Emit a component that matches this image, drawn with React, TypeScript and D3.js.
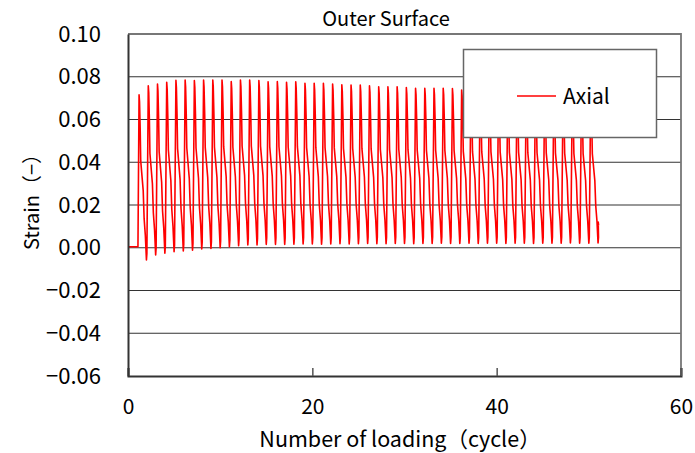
import { useEffect, useRef } from "react";
import * as d3 from "d3";

const W = 695;
const H = 453;

// axis ticks
const yTicks = [-0.06, -0.04, -0.02, 0, 0.02, 0.04, 0.06, 0.08, 0.1];
const xTicks = [0, 20, 40, 60];

// strain level before loading starts
const preLoadCycles = [0, 1.08];
const preLoadValues = [0.0005, 0.0005];

// peak strain of each loading cycle (1..50)
const peaks = [
  0.0715, 0.0758, 0.0766, 0.0774, 0.0783, 0.0785, 0.0782, 0.0785, 0.0785, 0.0785,
  0.0777, 0.0785, 0.0785, 0.0782, 0.0776, 0.0777, 0.0774, 0.0776, 0.0769, 0.0769,
  0.0769, 0.0766, 0.0762, 0.0761, 0.0761, 0.0758, 0.0753, 0.0753, 0.0753, 0.075,
  0.0746, 0.0746, 0.0746, 0.0746, 0.0745, 0.0738, 0.0736, 0.0735, 0.0734, 0.0732,
  0.0731, 0.073, 0.0728, 0.0727, 0.0726, 0.0724, 0.0722, 0.0721, 0.072, 0.0718,
];

// minimum strain after each peak
const troughs = [
  -0.0057, -0.0034, -0.0026, -0.0018, -0.0015, -0.0011, -0.0006, -0.0003, 0.0, 0.0005,
  0.001, 0.0013, 0.0013, 0.0016, 0.0016, 0.0016, 0.0017, 0.0018, 0.0018, 0.0017,
  0.0018, 0.0019, 0.0018, 0.0019, 0.002, 0.0019, 0.0019, 0.002, 0.002, 0.0019,
  0.002, 0.002, 0.0021, 0.002, 0.002, 0.0021, 0.002, 0.0021, 0.0021, 0.002,
  0.0021, 0.0021, 0.002, 0.0021, 0.0021, 0.0021, 0.0022, 0.0021, 0.0021, 0.0022,
];

// shape of one unloading branch: [phase within cycle, fraction of peak-trough range]
const branch: [number, number][] = [
  [0, 1],
  [0.05, 0.96],
  [0.12, 0.8],
  [0.18, 0.6],
  [0.45, 0.42],
  [0.55, 0.25],
  [0.68, 0.15],
  [0.8, 0],
  [0.85, 0.04],
];
const firstPeakCycle = 1.2;

// end of record after last cycle
const tailCycles = [51.02, 51.06];
const tailValues = [0.012, 0.0105];

const App = () => {
  const svgRef = useRef<SVGSVGElement>(null);

  useEffect(() => {
    const svg = d3.select(svgRef.current);
    svg.selectAll("*").remove();
    const font = "'Noto Sans CJK JP', 'Noto Sans', sans-serif";

    const left = 128, right = 681, top = 34, bottom = 376;
    const x = d3.scaleLinear().domain([0, 60]).range([left, right]);
    const y = d3.scaleLinear().domain([-0.06, 0.1]).range([bottom, top]);

    // build the series
    const pts: [number, number][] = preLoadCycles.map((c, i) => [c, preLoadValues[i]]);
    peaks.forEach((p, k) => {
      const t = troughs[k];
      branch.forEach(([ph, f]) => {
        pts.push([firstPeakCycle + k + ph, t + f * (p - t)]);
      });
    });
    tailCycles.forEach((c, i) => pts.push([c, tailValues[i]]));

    // gridlines
    svg.append("g")
      .selectAll("line")
      .data(yTicks.slice(1, -1))
      .join("line")
      .attr("x1", left)
      .attr("x2", right)
      .attr("y1", (d) => y(d))
      .attr("y2", (d) => y(d))
      .attr("stroke", "#333")
      .attr("stroke-width", 1.2);

    // frame: top and right
    svg.append("path")
      .attr("d", `M${left},${top}H${right}V${bottom}`)
      .attr("fill", "none")
      .attr("stroke", "#777")
      .attr("stroke-width", 1.8);

    // data line
    const line = d3.line<[number, number]>()
      .x((d) => x(d[0]))
      .y((d) => y(d[1]));
    svg.append("path")
      .datum(pts)
      .attr("d", line)
      .attr("fill", "none")
      .attr("stroke", "#ff0000")
      .attr("stroke-width", 1.6)
      .attr("stroke-linejoin", "round");

    // x axis
    const xAxis = d3.axisBottom(x).tickValues(xTicks).tickSize(-8).tickPadding(23).tickFormat((d) => `${d}`);
    const gx = svg.append("g").attr("transform", `translate(0,${bottom})`).call(xAxis);
    gx.select(".domain").attr("stroke", "#333").attr("stroke-width", 2);
    gx.selectAll(".tick line").attr("stroke", "#555").attr("stroke-width", 1.5);
    gx.selectAll("text").attr("font-family", font).attr("font-size", 21).attr("fill", "#000");

    // y axis
    const yAxis = d3.axisLeft(y).tickValues(yTicks).tickSize(0).tickPadding(27)
      .tickFormat((d) => (+d).toFixed(2).replace("-", "\u2212"));
    const gy = svg.append("g").attr("transform", `translate(${left},0)`).call(yAxis);
    gy.select(".domain").attr("stroke", "#333").attr("stroke-width", 2);
    gy.selectAll("text").attr("font-family", font).attr("font-size", 22).attr("fill", "#000");

    // title
    svg.append("text")
      .attr("x", 386)
      .attr("y", 26)
      .attr("text-anchor", "middle")
      .attr("font-family", font)
      .attr("font-size", 20)
      .text("Outer Surface");

    // axis titles
    svg.append("text")
      .attr("x", 400)
      .attr("y", 447)
      .attr("text-anchor", "middle")
      .attr("font-family", font)
      .attr("font-size", 21.5)
      .text("Number of loading（cycle）");
    svg.append("text")
      .attr("transform", "translate(39,197) rotate(-90)")
      .attr("text-anchor", "middle")
      .attr("font-family", font)
      .attr("font-size", 20)
      .text("Strain（−）");

    // legend
    const lg = svg.append("g");
    lg.append("rect")
      .attr("x", 463.5)
      .attr("y", 49.5)
      .attr("width", 193)
      .attr("height", 88)
      .attr("fill", "#fff")
      .attr("stroke", "#666")
      .attr("stroke-width", 1.5);
    lg.append("line")
      .attr("x1", 517)
      .attr("x2", 556)
      .attr("y1", 96)
      .attr("y2", 96)
      .attr("stroke", "#ff0000")
      .attr("stroke-width", 1.6);
    lg.append("text")
      .attr("x", 563)
      .attr("y", 104)
      .attr("font-family", font)
      .attr("font-size", 21)
      .text("Axial");
  }, []);

  return (
    <svg
      ref={svgRef}
      width={W}
      height={H}
      style={{ position: "absolute", left: 0, top: 0, background: "#fff" }}
    />
  );
};

export default App;
